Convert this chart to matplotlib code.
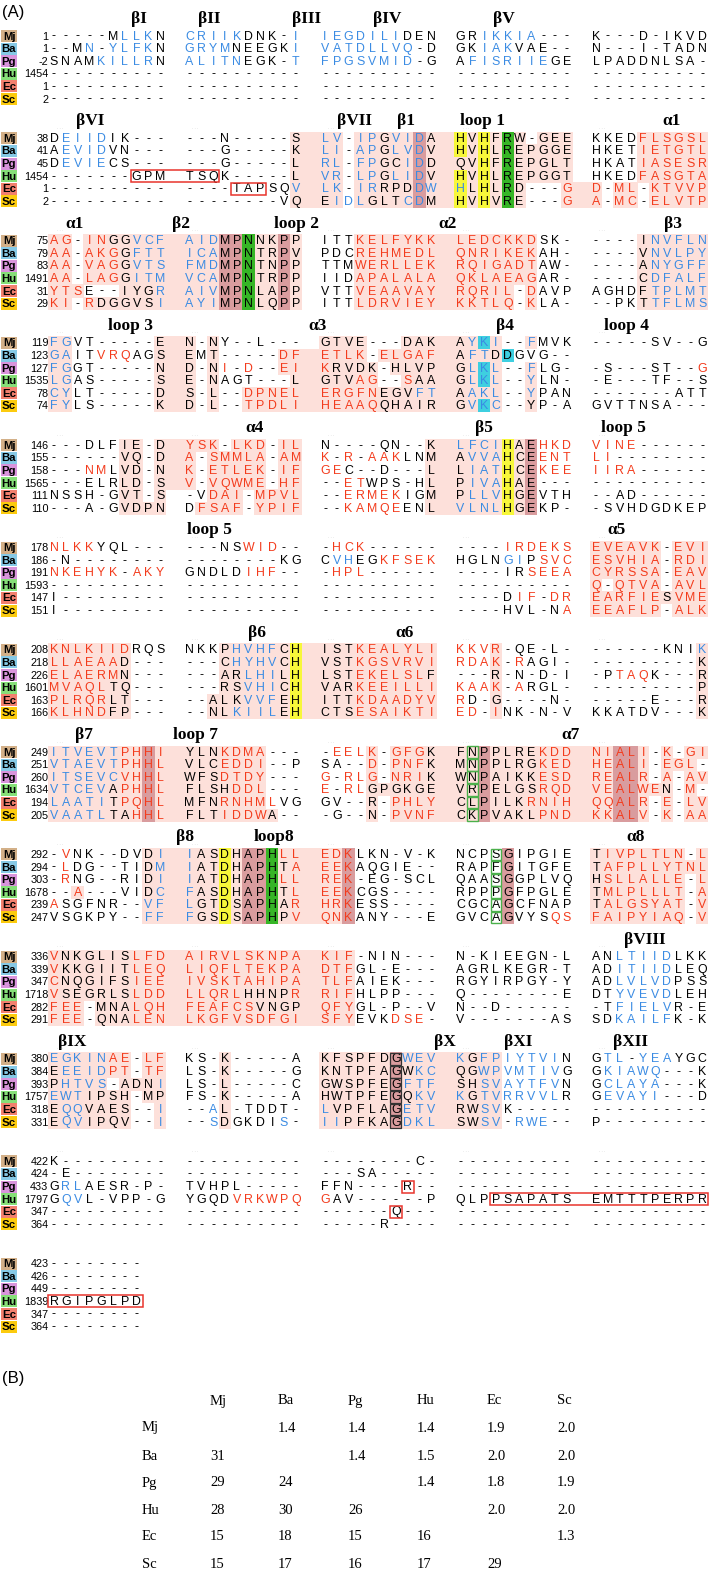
import matplotlib
matplotlib.use("Agg")
import matplotlib.pyplot as plt
from matplotlib.patches import Rectangle

# ---------------- data ----------------
SPECIES = ["Mj", "Ba", "Pg", "Hu", "Ec", "Sc"]

START_NUMBERS = [
    [1, 1, -2, 1454, 1, 2],
    [38, 41, 45, 1454, 1, 2],
    [75, 79, 83, 1491, 31, 29],
    [119, 123, 127, 1535, 78, 74],
    [146, 155, 158, 1565, 111, 110],
    [178, 186, 191, 1593, 147, 151],
    [208, 218, 226, 1601, 163, 166],
    [249, 251, 260, 1634, 194, 205],
    [292, 294, 303, 1678, 239, 247],
    [336, 339, 347, 1718, 282, 291],
    [380, 384, 393, 1757, 318, 331],
    [422, 424, 433, 1797, 347, 364],
    [423, 426, 449, 1839, 347, 364],
]

SEQ_BLOCK_01 = [
    "-----MLLKN CRIIKDNK-I IEGDILIDEN GRIKKIA--- K---D-IKVD",
    "--MN-YLFKN GRYMNEEGKI VATDLLVQ-D GKIAKVAE-- N---I-TADN",
    "SNAMKILLRN ALITNEGK-T FPGSVMID-G AFISRIIEGE LPADDNLSA-",
    "---------- ---------- ---------- ---------- ----------",
    "---------- ---------- ---------- ---------- ----------",
    "---------- ---------- ---------- ---------- ----------",
]
SEQ_BLOCK_02 = [
    "DEIIDIK--- ---N-----S LV-IPGVIDA HVHFRW-GEE KKEDFLSGSL",
    "AEVIDVN--- ---G-----K LI-APGLVDV HVHLREPGGE HKETIETGTL",
    "DEVIECS--- ---G-----L RL-FPGCIDD QVHFREPGLT HKATIASESR",
    "-------GPM TSQK-----L VR-LPGLIDV HVHLREPGGT HKEDFASGTA",
    "---------- ----TAPSQV LK-IRRPDDW HLHLRD---G D-ML-KTVVP",
    "---------- --------VQ EIDLGLTCDM HVHVRE---G A-MC-ELVTP",
]
SEQ_BLOCK_03 = [
    "AG-INGGVCF AIDMPNNKPP ITTKELFYKK LEDCKKDSK- ----INVFLN",
    "AA-AKGGFTT ICAMPNTRPV PDCREHMEDL QNRIKEKAH- ----VNVLPY",
    "AA-VAGGVTS FMDMPNTNPP TTMWERLLEK RQIGADTAW- ----ANYGFF",
    "AA-LAGGITM VCAMPNTRPP IIDAPALALA QKLAEAGAR- ----CDFALF",
    "YTSE--IYGR AIVMPNLAPP VTTVEAAVAY RQRIL-DAVP AGHDFTPLMT",
    "KI-RDGGVSI AYIMPNLQPP ITTLDRVIEY KKTLQ-KLA- --PKTTFLMS",
]
SEQ_BLOCK_04 = [
    "FGVT-----E N-NY--L--- GTVE---DAK AYKI--FMVK -----SV--G",
    "GAITVRQAGS EMT-----DF ETLK-ELGAF AFTDDGVG--",
    "FGGT-----N D-NI-D--EI KRVDK-HLVP GLKL--FLG- -S---ST--G",
    "LGAS-----S E-NAGT---L GTVAG--SAA GLKL--YLN- -E---TF--S",
    "CYLT-----D S-L--DPNEL ERGFNEGVFT AAKL--YPAN -------ATT",
    "FYLS-----K D-L--TPDLI HEAAQQHAIR GVKC--YP-A GVTTNSA---",
]
SEQ_BLOCK_05 = [
    "---DLFIE-D YSK-LKD-IL N----QN--K LFCIHAEHKD VINE------",
    "------VQ-D A-SMMLA-AM K-R-AAKLNM AVVAHCEENT LI--------",
    "---NMLVD-N K-ETLEK-IF GEC--D---L LIATHCEKEE IIRA------",
    "---ELRLD-S V-VQWME-HF --ETWPS-HL PIVAHAE--- ----------",
    "NSSH-GVT-S -VDAI-MPVL --ERMEKIGM PLLVHGEVTH --AD------",
    "---A-GVDPN DFSAF-YPIF --KAMQEENL VLNLHGEKP- -SVHDGDKEP",
]
SEQ_BLOCK_06 = [
    "NLKKYQL--- ---NSWID-- -HCK------ ----IRDEKS EVEAVK-EVI",
    "-N-------- --------KG CVHEGKFSEK HGLNGIPSVC ESVHIA-RDI",
    "NKEHYK-AKY GNDLDIHF-- -HPL------ ----IRSEEA CYRSSA-EAV",
    "---------- ---------- ---------- ---------- Q-QTVA-AVL",
    "I--------- ---------- ---------- ----DIF-DR EARFIESVME",
    "I--------- ---------- ---------- ----HVL-NA EEAFLP-ALK",
]
SEQ_BLOCK_07 = [
    "KNLKIIDRQS NKKPHVHFCH ISTKEALYLI KKVR-QE-L- ------KNIK",
    "LLAEAAD--- ---CHYHVCH VSTKGSVRVI RDAK-RAGI- ---------K",
    "ELAERMN--- ---ARLHILH LSTEKELSLF ---R-N-D-I -PTAQK---R",
    "MVAQLTQ--- ---RSVHICH VARKEEILLI KAAK-ARGL- ---------P",
    "PLRQRLT--- --ALKVVFEH ITTKDAADYV RD-G----N- -----E---R",
    "KLHNDFP--- --NLKIILEH CTSESAIKTI ED-INK-N-V KKATDV---K",
]
SEQ_BLOCK_08 = [
    "ITVEVTPHHI YLNKDMA--- -EELK-GFGK FNPPLREKDD NIALI-K-GI",
    "VTAEVTPHHL VLCEDDI--P SA--D-PNFK MNPPLRGKED HEALI-EGL-",
    "ITSEVCVHHL WFSDTDY--- G-RLG-NRIK WNPAIKKESD REALR-A-AV",
    "VTCEVAPHHL FLSHDDL--- E-RLGPGKGE VRPELGSRQD VEALWEN-M-",
    "LAATITPQHL MFNRNHMLVG GV--R-PHLY CLPILKRNIH QQALR-E-LV",
    "VAATLTAHHL FLTIDDWA-- -G--N-PVNF CKPVAKLPND KKALV-K-AA",
]
SEQ_BLOCK_09 = [
    "-VNK--DVDI IASDHAPHLL EDKLKN-V-K NCPSGIPGIE TIVPLTLN-L",
    "-LDG--TIDM IATDHAPHTA EEKAQGIE-- RAPFGITGFE TAFPLLYTNL",
    "-RNG--RIDI IATDHAPHLL REK-EG-SCL QAASGGPLVQ HSLLALLE-L",
    "--A---VIDC FASDHAPHTL EEKCGS---- RPPPGFPGLE TMLPLLLT-A",
    "ASGFNR--VF LGTDSAPHAR HRKESS---- CGCAGCFNAP TALGSYAT-V",
    "VSGKPY--FF FGSDSAPHPV QNKANY---E GVCAGVYSQS FAIPYIAQ-V",
]
SEQ_BLOCK_10 = [
    "VNKGLISLFD AIRVLSKNPA KIF-NIN--- N-KIEEGN-L ANLTIIDLKK",
    "VKKGIITLEQ LIQFLTEKPA DTFGL-E--- AGRLKEGR-T ADITIIDLEQ",
    "CNQGIFSIEE IVSKTAHIPA TLFAIEK--- RGYIRPGY-Y ADLVLVDPSS",
    "VSEGRLSLDD LLQRLHHNPR RIFHLPP--- Q--------E DTYVEVDLEH",
    "FEE-MNALQH FEAFCSVNGP QFYGL-P--V N--D------ -TFIELVR-E",
    "FEE-QNALEN LKGFVSDFGI SFYEVKDSE- V-------AS SDKAILFK-K",
]
SEQ_BLOCK_11 = [
    "EGKINAE-LF KS-K-----A KFSPFDGWEV KGFPIYTVIN GTL-YEAYGC",
    "EEEIDPT-TF LS-K-----G KNTPFAGWKC QGWPVMTIVG GKIAWQ---K",
    "PHTVS-ADNI LS-L-----C GWSPFEGFTF SHSVAYTFVN GCLAYA---K",
    "EWTIPSH-MP FS-K-----A HWTPFEGQKV KGTVRRVVLR GEVAYI---D",
    "EQQVAES--I --AL-TDDT- LVPFLAGETV RWSVK----- ----------",
    "EQVIPQV--I --SDGKDIS- IIPFKAGDKL SWSV-RWE-- P---------",
]
SEQ_BLOCK_12 = [
    "K--------- ---------- --------C- ---------- ----------",
    "-E-------- ---------- ---SA----- ---------- ----------",
    "GRLAESR-P- TVHPL----- FFN----R-- ---------- ----------",
    "GQVL-VPP-G YGQDVRKWPQ GAV------P QLPPSAPATS EMTTTPERPR",
    "---------- ---------- ------Q--- ---------- ----------",
    "---------- ---------- -----R---- ---------- ----------",
]
SEQ_BLOCK_13 = [
    "--------",
    "--------",
    "--------",
    "RGIPGLPD",
    "--------",
    "--------",
]

# residue style codes: . black | k black/pink | r red | R red/pink | b blue | B blue/pink
# y black/yellow | Y blue/yellow | g black/green | c black/cyan | C blue/cyan
# m black/mauve | M blue/mauve | n red/mauve
STY_BLOCK_01 = [
    "......bbb. bbbbb....b bbbbbbb... ..bbbbb... ..........",
    "...b.bbbb. bbbb.....b bbbbbbbb.. ..bbb..... ..........",
    "....bbbbb. bbbbb....b bbbbbbbb.. .bbbbbbb.. ..........",
    ".......... .......... .......... .......... ..........",
    ".......... .......... .......... .......... ..........",
    ".......... .......... .......... .......... ..........",
]
STY_BLOCK_02 = [
    ".bbbb..... .........k BB.BBkBBMk ykykgk.kkk ....RRRRRR",
    ".bbbb..... .........k BB.BBkBBMk ykykgkkkkk ....RRRRRR",
    ".bbbb..... .........k BB.BBkkBMk kkykgkkkkk ....RRRRRR",
    ".......... .........k BB.BBkBBMk ykykgkkkkk ....RRRRRR",
    ".......... .........B BB.BBkkkMB Ykykgk...R R.RR.RRRRR",
    ".......... .........k kBbBkkkBMk ykykgk...R R.RR.RRRRR",
]
STY_BLOCK_03 = [
    "RR.RRkkBBB BBBmmgkkmk ...RRRRRRR RRRRRRR... ....kBBBBB",
    "RR.RRRkBBB BBBmmgkkmk ...RRRRRRR RRRRRRR... ....kBBBBB",
    "RR.RRRkBBB BBBmmgkkmk ...RRRRRRR RRRRRRR... ....kBBBBB",
    "RR.RRRkBBB BBBmmgkkmk ...RRRRRRR RRRRRRR... ....kBBBBB",
    "RRR...kkkB BBBmmgkkmk ...RRRRRRR RRRRR.R... ....kBBBBB",
    "RR.RkkkkkB BBBmmgkkmk ...RRRRRRR RRRRR.R... ....kBBBBB",
]
STY_BLOCK_04 = [
    "BB.......k k.k....... kkkk...kkk kBCB..B... ..........",
    "BB..rrr..k k.k.....RR RRRR.RRRRR kBBkc.....",
    "BB.......k k.kr.r..RR Rkkkk.kkkk kBCB..B... .........r",
    "BB.......k k.k......k kkkRR..Rkk kBCB..B... ..........",
    "BB.......k k.k..RRRRR RRRRRkkkBB kBBB..B... ..........",
    "BB.......k k.k..RRRRR RRRRRkkkkk kBCB..k... ..........",
]
STY_BLOCK_05 = [
    "......kk.k RRR.RRR.RR .........k BBBBykmrrr rrrr......",
    "......kk.k R.RRRRR.RR r.r.rrr..k kBBBykmrrr rr........",
    "...rr.kk.k R.RRRRR.RR rr.......k kBBBykmrrr rrrr......",
    "......kk.k R.RRRRR.RR ..rr.....k kBBBykm... ..........",
    "......kk.k ..RRR.RRRR ..rrrrr..k kBBBykm... ..........",
    "......kkkk .RRRR.RRRR ..rrrrr..k BBBBykm... ..........",
]
STY_BLOCK_06 = [
    "rrrr...... .....rrr.. .rrr...... ....rrrrrr RRRRRR.RRR",
    ".......... .......... .bb..rrrrr ....bb.rrr RRRRRR.RRR",
    "rrrrrr.rrr .....rrr.. .rrr...... ......rrrr RRRRRR.RRR",
    ".......... .......... .......... .......... R.RRRR.RRR",
    ".......... .......... .......... .....rr.rr RRRRRRkRRR",
    ".......... .......... .......... .........r RRRRRR.RRR",
]
STY_BLOCK_07 = [
    "RRRRRRR... ...kBBBBky kkkRRRRRRR rrrR...... .........B",
    "RRRRRRk... ...kBBBBky kkkRRRRRRR rrrR.r.... .........k",
    "RRRRRRk... ...kkBBBky kkkRRRRRRk ...k...... ..rrr....k",
    "RRRRRkk... ...kkBBBky kkkRRRRRRR rrrR.r.... .........k",
    "RRRRRkk... ..kkkBBBky kkkRRRRRRR r..k...... .........k",
    "RRRRRkk... ..kkBBBBky kkkRRRRRRR rr.R...... .........k",
]
STY_BLOCK_08 = [
    "BBBBBBRRnR kkkRRRR... .rrrR.RRRk kkmkkkkRRR RRnnR.R.RR",
    "BBBBBBRRnR kkkRRRR... ....R.RRRk kkmkkkkRRR RRnnR.RRR.",
    "BBBBBBRRnR kkkRRRR... r.rrR.RRRk kkmkkkkRRR RRnnR.R.RR",
    "BBBBBkRRnR kkkkRRR... r.rrkkkkkk kkmkkkkRRR RRnnRRk.R.",
    "BBBBBkRRnR kkkRRRRr.. ....k.RRRR kkmkkkRRRR RRnnR.R.RR",
    "BBBBBkkRnR kkkRRRRk.. ....k.RRRR kkmkkkkRRR RRnnR.R.RR",
]
STY_BLOCK_09 = [
    ".r......kB BkkykmmgRR RRn....... ....m..... kRRRRRRR.R",
    ".r......kB BkkykmmgkR RRn....... ....m..... kRRRRRRRRR",
    ".r......kB BkkykmmgRR RRn....... ....m..... kRRRRRRR.R",
    "..R.....kB BkkykmmgkR RRn....... ....m..... kRRRRRRR.R",
    "r.......BB BkkykmmgkR RRn....... ....m..... kRRRRRRR.R",
    "........BB BkkykmmgkR RRn....... ....m...rr RRRRRRRR.R",
]
STY_BLOCK_10 = [
    "RkkkkkkRRR RRRRRRRRRR RRR....... .......... ..bbbbb...",
    "RkkkkkkRRR RRRRRRRRRR RRR....... .......... ..bbbbb...",
    "RkkkkkkRRR RRRRRRRRRR RRR....... .......... ..bbbbb...",
    "RkkkkkkRRR RRRRRkkkkR RRR....... .......... ..bbbbb...",
    "RRR.kkkRRR RRRRRRkkkk RRR....... .......... ..bbbbb...",
    "RRR.kkkRRR RRRRRRRRRR RRR...rrr. .......... ..bbbbb...",
]
STY_BLOCK_11 = [
    "BBBBBRR.RR ...k...... kkkkkkmBBB BkBBbbbbb. .bb.bbb...",
    "kBBBBRR.RR ...k...... kkkkkkmkBB kkBBbbbbb. .bbbbb....",
    "kBBBB.kkkB ...k...... kkkkkkmBBB kkBBbbbbb. .bbbbb....",
    "BBBkkkk.kk ...k...... kkkkkkmkBB BkBBbbbbb. .bbbbb....",
    "kBBkkkk..B ..bk...... BkkkkkmBBB kkBB...... ..........",
    "kBBkkkk..B ..bk....b. BBkkkkmBBB kkBB.bbb.. ..........",
]
STY_BLOCK_12 = [
    ".......... .......... .......... .......... ..........",
    ".......... .......... .......... .......... ..........",
    ".bb....... .......... .......... .......... ..........",
    ".bb....... ....rrrrrr r......... .......... ..........",
    ".......... .......... .......... .......... ..........",
    ".......... .......... .......... .......... ..........",
]
STY_BLOCK_13 = ["........"] * 6

SEQUENCE_BLOCKS = [SEQ_BLOCK_01, SEQ_BLOCK_02, SEQ_BLOCK_03, SEQ_BLOCK_04, SEQ_BLOCK_05,
                   SEQ_BLOCK_06, SEQ_BLOCK_07, SEQ_BLOCK_08, SEQ_BLOCK_09, SEQ_BLOCK_10,
                   SEQ_BLOCK_11, SEQ_BLOCK_12, SEQ_BLOCK_13]
STYLE_BLOCKS = [STY_BLOCK_01, STY_BLOCK_02, STY_BLOCK_03, STY_BLOCK_04, STY_BLOCK_05,
                STY_BLOCK_06, STY_BLOCK_07, STY_BLOCK_08, STY_BLOCK_09, STY_BLOCK_10,
                STY_BLOCK_11, STY_BLOCK_12, STY_BLOCK_13]

SS_LABELS = [
    ["βI", "βII", "βIII", "βIV", "βV"],
    ["βVI", "βVII", "β1", "loop 1", "α1"],
    ["α1", "β2", "loop 2", "α2", "β3"],
    ["loop 3", "α3", "β4", "loop 4"],
    ["α4", "β5", "loop 5"],
    ["loop 5", "α5"],
    ["β6", "α6"],
    ["β7", "loop 7", "α7"],
    ["β8", "loop8", "α8"],
    ["βVIII"],
    ["βIX", "βX", "βXI", "βXII"],
    [],
    [],
]

# panel B: upper triangle = RMSD, lower triangle = % identity
RMSD_UPPER = [
    [None, 1.4, 1.4, 1.4, 1.9, 2.0],
    [None, None, 1.4, 1.5, 2.0, 2.0],
    [None, None, None, 1.4, 1.8, 1.9],
    [None, None, None, None, 2.0, 2.0],
    [None, None, None, None, None, 1.3],
    [None, None, None, None, None, None],
]
IDENTITY_LOWER = [
    [None, None, None, None, None, None],
    [31, None, None, None, None, None],
    [29, 24, None, None, None, None],
    [28, 30, 26, None, None, None],
    [15, 18, 15, 16, None, None],
    [15, 17, 16, 17, 29, None],
]

# ---------------- layout / style ----------------
W, H = 709, 1571
SPECIES_COLORS = ["#d3b088", "#86c9e6", "#d994dc", "#86df78", "#f2806e", "#fccb0e"]
RED = "#f33b1c"
BLUE = "#3a8be3"
PINK = "#fde0da"
MAUVE = "#d99c9e"
YELLOW = "#f7f73a"
GREEN = "#36b526"
CYAN = "#3ecfe0"
STYLE_MAP = {
    ".": ("black", None), "k": ("black", PINK),
    "r": (RED, None), "R": (RED, PINK),
    "b": (BLUE, None), "B": (BLUE, PINK),
    "y": ("black", YELLOW), "Y": (BLUE, YELLOW),
    "g": ("black", GREEN),
    "c": ("black", CYAN), "C": (BLUE, CYAN),
    "m": ("black", MAUVE), "M": (BLUE, MAUVE), "n": (RED, MAUVE),
}

X0, GROUP_STEP, PITCH = 54.0, 135.5, 11.8
ROW0, BLOCK_STEP, ROW_H = 36.0, 102.3, 12.6

SS_X = [
    [139, 209, 307, 387, 504],
    [90, 355, 406, 482, 672],
    [75, 181, 296, 448, 673],
    [130, 318, 505, 627],
    [255, 484, 623],
    [209, 617],
    [257, 405],
    [84, 195, 570],
    [185, 274, 636],
    [645],
    [72, 445, 518, 630],
    [], [],
]

RED_BOXES = [
    (1, 0, 7, 1, 2, [3]), (1, 1, 4, 1, 6, [4]),
    (11, 2, 7, 2, 7, [2]), (11, 2, 6, 2, 6, [4]), (11, 3, 3, 4, 9, [3]),
    (12, 0, 0, 0, 7, [3]),
]
GREEN_CELLS = [(7, 3, 1), (8, 3, 3)]
DARK_CELLS = [(10, 2, 6)]

SANS = ["Liberation Sans", "DejaVu Sans"]
SERIF = ["Liberation Serif", "DejaVu Serif"]

fig = plt.figure(figsize=(W / 100, H / 100), dpi=100)
ax = fig.add_axes([0, 0, 1, 1])
ax.set_xlim(0, W)
ax.set_ylim(H, 0)
ax.axis("off")


def colx(g, c):
    return X0 + g * GROUP_STEP + c * PITCH


def rowy(b, r):
    return ROW0 + b * BLOCK_STEP + r * ROW_H


ax.text(2, 12, "(A)", fontsize=12, family=SANS, ha="left", va="center")

for b, (seqs, stys) in enumerate(zip(SEQUENCE_BLOCKS, STYLE_BLOCKS)):
    hy = rowy(b, 0) - 17
    for lab, lx in zip(SS_LABELS[b], SS_X[b]):
        ax.text(lx, hy, lab, fontsize=12.5, fontweight="bold", family=SERIF,
                ha="center", va="center")
    if 1 <= b <= 11:
        for g in range(5):
            ax.text(colx(g, 0) + 6, rowy(b, 0) - 9.5, "· · ·", fontsize=3,
                    color="#aaaaaa", ha="center", va="center")
    for r, (seq, sty) in enumerate(zip(seqs, stys)):
        y = rowy(b, r)
        ax.add_patch(Rectangle((1, y - 6.0), 16.0, 12.0, facecolor=SPECIES_COLORS[r],
                               edgecolor="none", zorder=2))
        ax.text(9.0, y + 0.5, SPECIES[r], fontsize=8.2, fontweight="bold", family=SANS,
                ha="center", va="center", zorder=3)
        ax.text(48.5, y + 0.5, str(START_NUMBERS[b][r]), fontsize=7.8, family=SANS,
                ha="right", va="center", zorder=3)
        sgroups = seq.split(" ")
        tgroups = sty.split(" ")
        for g, (sg, tg) in enumerate(zip(sgroups, tgroups)):
            for c, (ch, code) in enumerate(zip(sg, tg)):
                color, bg = STYLE_MAP.get(code, ("black", None))
                x = colx(g, c)
                if bg is not None:
                    ax.add_patch(Rectangle((x - PITCH / 2 - 0.25, y - ROW_H / 2 - 0.25),
                                           PITCH + 0.5, ROW_H + 0.5, facecolor=bg,
                                           edgecolor="none",
                                           zorder=1 if bg == PINK else 1.5))
                ax.text(x, y + 0.5, ch, fontsize=8.9, family=SANS, color=color,
                        ha="center", va="center", zorder=4)
            if g + 1 < len(tgroups) and len(tg) == 10 and len(tgroups[g + 1]) > 0:
                if STYLE_MAP.get(tg[-1], (0, None))[1] and STYLE_MAP.get(tgroups[g + 1][0], (0, None))[1]:
                    xa = colx(g, 9) + PITCH / 2 - 0.3
                    xb = colx(g + 1, 0) - PITCH / 2 + 0.3
                    ax.add_patch(Rectangle((xa, y - ROW_H / 2 - 0.25), xb - xa, ROW_H + 0.5,
                                           facecolor=PINK, edgecolor="none", zorder=1))

for (b, g0, c0, g1, c1, rows) in RED_BOXES:
    for r in rows:
        y = rowy(b, r)
        xa = colx(g0, c0) - PITCH / 2
        xb = colx(g1, c1) + PITCH / 2
        ax.add_patch(Rectangle((xa, y - ROW_H / 2 + 0.3), xb - xa, ROW_H - 0.6,
                               facecolor="none", edgecolor="#e8342c", lw=1.1, zorder=5))

for (b, g, c) in GREEN_CELLS:
    for r in range(6):
        y = rowy(b, r)
        ax.add_patch(Rectangle((colx(g, c) - PITCH / 2 + 0.5, y - ROW_H / 2 + 0.4),
                               PITCH - 1, ROW_H - 0.8, facecolor="none",
                               edgecolor="#4bb04b", lw=1.0, zorder=5))

for (b, g, c) in DARK_CELLS:
    for r in range(6):
        y = rowy(b, r)
        ax.add_patch(Rectangle((colx(g, c) - PITCH / 2 + 0.5, y - ROW_H / 2 + 0.4),
                               PITCH - 1, ROW_H - 0.8, facecolor="none",
                               edgecolor="#333333", lw=0.9, zorder=5))

# ---------------- panel B ----------------
ax.text(2, 1378, "(B)", fontsize=12, family=SANS, ha="left", va="center")
TABLE_COL_X = [210, 278, 348, 417, 487, 557]
TABLE_ROW_Y = [1428, 1456, 1483, 1510, 1537, 1564]
for name, x in zip(SPECIES, TABLE_COL_X):
    ax.text(x, 1401, name, fontsize=10.5, family=SERIF, ha="left", va="center")
for i, (name, y) in enumerate(zip(SPECIES, TABLE_ROW_Y)):
    ax.text(142, y, name, fontsize=10.5, family=SERIF, ha="left", va="center")
    for j, x in enumerate(TABLE_COL_X):
        if RMSD_UPPER[i][j] is not None:
            ax.text(x, y, f"{RMSD_UPPER[i][j]:.1f}", fontsize=10.5, family=SERIF,
                    ha="left", va="center")
        elif IDENTITY_LOWER[i][j] is not None:
            ax.text(x, y, f"{IDENTITY_LOWER[i][j]}", fontsize=10.5, family=SERIF,
                    ha="left", va="center")

fig.savefig("out.png", dpi=100)
